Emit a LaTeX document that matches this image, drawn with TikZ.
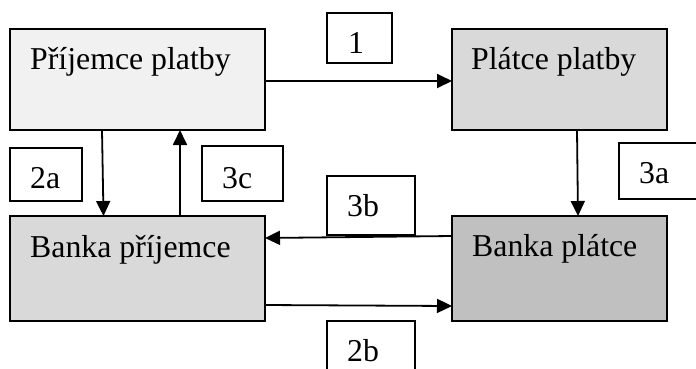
\documentclass[tikz,border=0pt]{standalone}
\usepackage{fontspec}
\setmainfont{Liberation Serif}
\usetikzlibrary{arrows.meta}
\tikzset{
  box/.style={draw=black, line width=1.8pt, inner sep=0pt, outer sep=0pt},
  tag/.style={draw=black, line width=1.6pt, fill=white, inner sep=0pt, outer sep=0pt},
  txt/.style={anchor=base west, inner sep=0pt, font=\fontsize{31.8}{38}\selectfont},
  flow/.style={line width=1.8pt, -{Triangle[length=15pt,width=14pt]}},
}
\begin{document}
\begin{tikzpicture}[x=1pt, y=-1pt]
  \useasboundingbox (0,0) rectangle (696,368);
  \clip (0,0) rectangle (696,368);

  % parties and banks
  \node[box, fill={rgb,255:red,241;green,241;blue,241}, minimum width=255pt, minimum height=101pt] (b1) at (137.5,79.5) {};
  \node[box, fill={rgb,255:red,217;green,217;blue,217}, minimum width=215pt, minimum height=101pt] (b2) at (559.5,79.5) {};
  \node[box, fill={rgb,255:red,217;green,217;blue,217}, minimum width=255pt, minimum height=105pt] (b3) at (137.5,268.5) {};
  \node[box, fill={rgb,255:red,192;green,192;blue,192}, minimum width=215pt, minimum height=105pt] (b4) at (559.5,268.5) {};

  \node[txt] (t1) at (30,69) {Příjemce platby};
  \node[txt] (t2) at (471,69) {Plátce platby};
  \node[txt] (t3) at (30,257) {Banka příjemce};
  \node[txt] (t4) at (472,256) {Banka plátce};

  % step markers
  \node[tag, minimum width=65pt, minimum height=50pt] (l1) at (359.5,38) {};
  \node[tag, minimum width=72pt, minimum height=53pt] (l2a) at (46,174.5) {};
  \node[tag, minimum width=81pt, minimum height=55pt] (l3c) at (242.5,173.5) {};
  \node[tag, minimum width=101pt, minimum height=56pt] (l3a) at (669.5,171) {};
  \node[tag, minimum width=88pt, minimum height=59pt] (l3b) at (371,205.5) {};
  \node[tag, minimum width=88pt, minimum height=59pt] (l2b) at (371,350.5) {};

  \node[txt] (n1) at (348,53) {1};
  \node[txt] (n2a) at (30,188) {2a};
  \node[txt] (n3c) at (222,188) {3c};
  \node[txt] (n3a) at (639,183) {3a};
  \node[txt] (n3b) at (347,216) {3b};
  \node[txt] (n2b) at (347,361) {2b};

  % payment flows
  \draw[flow] ([yshift=-1.5pt]b1.east) -- ([yshift=-1.5pt]b2.west);
  \draw[flow] ([xshift=-35.5pt]b1.south) -- ([xshift=-34pt]b3.north);
  \draw[flow] ([xshift=42.5pt]b3.north) -- ([xshift=42.5pt]b1.south);
  \draw[flow] ([xshift=17.5pt]b2.south) -- ([xshift=18.5pt]b4.north);
  \draw[flow] ([yshift=32.5pt]b4.west) -- ([yshift=30.5pt]b3.east);
  \draw[flow] ([yshift=-36.5pt]b3.east) -- ([yshift=-37.5pt]b4.west);
\end{tikzpicture}
\end{document}
